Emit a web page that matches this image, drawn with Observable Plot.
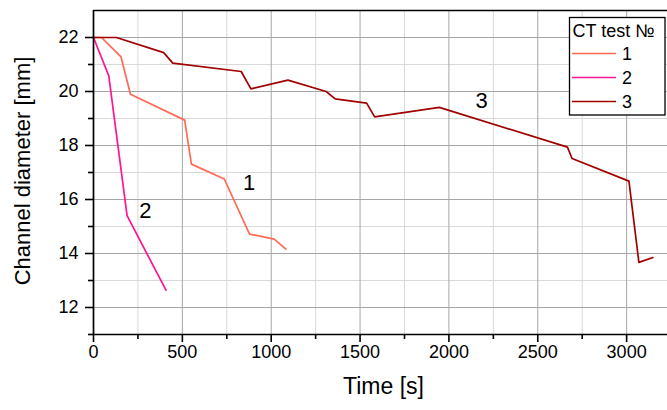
<!DOCTYPE html>
<html>
<head>
<meta charset="utf-8">
<script src="https://cdn.jsdelivr.net/npm/d3@7"></script>
<script src="https://cdn.jsdelivr.net/npm/@observablehq/plot@0.6"></script>
<style>
  html, body { margin: 0; padding: 0; background: #fff; }
  #chart { position: relative; width: 667px; height: 410px; overflow: hidden; }
  svg { font-family: "Liberation Sans", Arial, sans-serif; }
</style>
</head>
<body>
<div id="chart"></div>
<script>
// --- Data ---
const series1Time = [0, 45, 155, 208, 513, 551, 736, 878, 1017, 1082];
const series1Diam = [22, 22, 21.28, 19.9, 18.94, 17.31, 16.76, 14.72, 14.53, 14.16];

const series2Time = [0, 86, 189, 408];
const series2Diam = [22, 20.58, 15.4, 12.64];

const series3Time = [0, 129, 395, 446, 831, 886, 1094, 1309, 1360, 1537, 1582, 1946, 2667, 2693, 3013, 3069, 3148];
const series3Diam = [22, 22, 21.44, 21.05, 20.74, 20.1, 20.42, 20.0, 19.73, 19.57, 19.06, 19.41, 17.94, 17.52, 16.68, 13.67, 13.85];

const seriesNames = ["1", "2", "3"];
const seriesColors = ["#ff6a55", "#ff1493", "#a00000"];

const labelNames = ["1", "2", "3"];
const labelTime = [876, 292, 2184];
const labelDiam = [16.63, 15.58, 19.66];

const xMajorTicks = [0, 500, 1000, 1500, 2000, 2500, 3000];
const xMinorTicks = [250, 750, 1250, 1750, 2250, 2750, 3250];
const yMajorTicks = [12, 14, 16, 18, 20, 22];
const yMinorTicks = [11, 13, 15, 17, 19, 21, 23];

const xLabel = "Time [s]";
const yLabel = "Channel diameter [mm]";
const legendTitle = "CT test №";

// --- Build table ---
const allTimes = [series1Time, series2Time, series3Time];
const allDiams = [series1Diam, series2Diam, series3Diam];
const rows = [];
seriesNames.forEach((name, i) => {
  allTimes[i].forEach((t, j) => rows.push({test: name, time: t, diam: allDiams[i][j]}));
});
const labels = labelNames.map((n, i) => ({n, time: labelTime[i], diam: labelDiam[i]}));

const plot = Plot.plot({
  width: 667,
  height: 410,
  marginLeft: 93,
  marginRight: 0,
  marginTop: 10,
  marginBottom: 76,
  style: {fontFamily: '"Liberation Sans", Arial, sans-serif', background: "#fff", overflow: "hidden"},
  x: {domain: [0, 3230]},
  y: {domain: [11, 23]},
  color: {domain: seriesNames, range: seriesColors},
  marks: [
    Plot.gridX(xMinorTicks, {stroke: "#d9d9d9", strokeOpacity: 1, strokeWidth: 1}),
    Plot.gridY(yMinorTicks, {stroke: "#d9d9d9", strokeOpacity: 1, strokeWidth: 1}),
    Plot.gridX(xMajorTicks, {stroke: "#a6a6a6", strokeOpacity: 1, strokeWidth: 1}),
    Plot.gridY(yMajorTicks, {stroke: "#a6a6a6", strokeOpacity: 1, strokeWidth: 1}),
    Plot.line(rows, {x: "time", y: "diam", z: "test", stroke: "test", strokeWidth: 1.7}),
    Plot.text(labels, {x: "time", y: "diam", text: "n", fontSize: 22, fill: "#000"}),
    Plot.ruleY([23], {stroke: "#000", strokeWidth: 1.7}),
    Plot.ruleY([11], {stroke: "#000", strokeWidth: 1.7}),
    Plot.ruleX([0], {stroke: "#000", strokeWidth: 1.7}),
    Plot.axisX(xMajorTicks, {tickSize: 8, tickPadding: 3, fontSize: 18, tickFormat: d => String(d), label: null, stroke: "#000", strokeWidth: 1.6}),
    Plot.axisX(xMinorTicks, {tickSize: 5, text: null, label: null, stroke: "#000", strokeWidth: 1.6}),
    Plot.axisY(yMajorTicks, {tickSize: 8, tickPadding: 7, fontSize: 18, tickFormat: d => String(d), label: null, stroke: "#000", strokeWidth: 1.6}),
    Plot.axisY(yMinorTicks.filter(d => d < 23), {tickSize: 5, text: null, label: null, stroke: "#000", strokeWidth: 1.6}),
    Plot.text([xLabel], {frameAnchor: "bottom", dx: 3, dy: 59, fontSize: 23, fill: "#000", textAnchor: "middle"}),
    Plot.text([yLabel], {frameAnchor: "left", dx: -71, dy: -1.5, rotate: -90, fontSize: 22, fill: "#000", textAnchor: "middle"})
  ]
});

document.getElementById("chart").appendChild(plot);

// --- Legend box inside the plot ---
const svg = d3.select(plot);
const lg = svg.append("g").attr("transform", "translate(569.5,17.5)")
  .style("font-family", '"Liberation Sans", Arial, sans-serif');
lg.append("rect").attr("width", 95.5).attr("height", 97.5)
  .attr("fill", "#fff").attr("stroke", "#000").attr("stroke-width", 1.3);
lg.append("text").attr("x", 3).attr("y", 19.5)
  .style("font-size", "18px").style("text-anchor", "start")
  .attr("fill", "#000").text(legendTitle);
seriesNames.forEach((name, i) => {
  const yy = 36 + i * 24;
  lg.append("line").attr("x1", 2.5).attr("x2", 46.5).attr("y1", yy).attr("y2", yy)
    .attr("stroke", seriesColors[i]).attr("stroke-width", 1.7);
  lg.append("text").attr("x", 52.5).attr("y", yy + 6.5)
    .style("font-size", "18px").style("text-anchor", "start")
    .attr("fill", "#000").text(name);
});
</script>
</body>
</html>
